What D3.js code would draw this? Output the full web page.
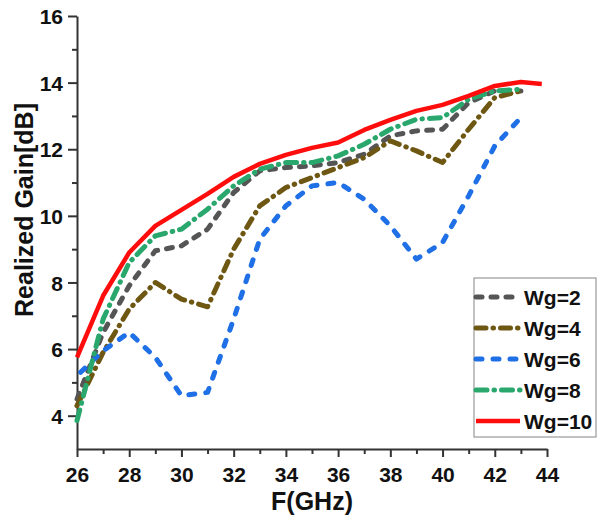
<!DOCTYPE html>
<html>
<head>
<meta charset="utf-8">
<script src="https://cdn.jsdelivr.net/npm/d3@7"></script>
<style>
  body { margin: 0; background: #fff; }
  svg text { font-family: "Liberation Sans", Arial, sans-serif; font-weight: bold; fill: #111; }
</style>
</head>
<body>
<div id="chart"></div>
<script>
// frequency points (GHz)
var freqs = [26, 27, 28, 29, 30, 31, 32, 33, 34, 35, 36, 37, 38, 39, 40, 41, 42, 43];
var freqsWg10 = freqs.concat([43.8]);

// realized gain (dB) per Wg
var wg2 = [4.5, 6.5, 7.9, 8.95, 9.1, 9.6, 10.7, 11.35, 11.45, 11.5, 11.6, 11.85, 12.4, 12.55, 12.6, 13.4, 13.75, 13.75];
var wg4 = [4.3, 5.9, 7.2, 8.0, 7.5, 7.27, 9.0, 10.3, 10.85, 11.15, 11.45, 11.75, 12.25, 11.95, 11.6, 12.6, 13.55, 13.75];
var wg6 = [5.2, 5.95, 6.5, 5.75, 4.6, 4.7, 6.9, 9.3, 10.3, 10.9, 11.0, 10.5, 9.7, 8.7, 9.2, 10.6, 12.1, 12.95];
var wg8 = [3.85, 6.9, 8.6, 9.4, 9.6, 10.2, 10.9, 11.4, 11.6, 11.6, 11.8, 12.15, 12.6, 12.9, 12.95, 13.5, 13.75, 13.8];
var wg10 = [5.75, 7.6, 8.9, 9.7, 10.18, 10.66, 11.17, 11.56, 11.83, 12.04, 12.2, 12.58, 12.88, 13.15, 13.33, 13.6, 13.9, 14.02, 13.96];

var seriesNames = ['Wg=2', 'Wg=4', 'Wg=6', 'Wg=8', 'Wg=10'];
var xTicks = [26, 28, 30, 32, 34, 36, 38, 40, 42, 44];
var yTicks = [4, 6, 8, 10, 12, 14, 16];

var series = [
  { name: seriesNames[0], x: freqs, y: wg2, color: '#555555', dash: '6,9', offset: 0, width: 5 },
  { name: seriesNames[1], x: freqs, y: wg4, color: '#6e5712', dash: '10,7,0.5,7', offset: 0, width: 5 },
  { name: seriesNames[2], x: freqs, y: wg6, color: '#1f6fe6', dash: '6,11', offset: 12, width: 5 },
  { name: seriesNames[3], x: freqs, y: wg8, color: '#2aa76c', dash: '11,7,0.5,7', offset: 0, width: 5 },
  { name: seriesNames[4], x: freqsWg10, y: wg10, color: '#ff0d0d', dash: null, offset: 0, width: 4.5 }
];

var width = 601, height = 525;
var margin = { top: 16, right: 54, bottom: 76, left: 77 };

var x = d3.scaleLinear().domain([26, 44]).range([margin.left, width - margin.right]);
var y = d3.scaleLinear().domain([3, 16]).range([height - margin.bottom, margin.top]);

var svg = d3.select('#chart')
  .append('svg')
  .attr('width', width)
  .attr('height', height);

// minor ticks first, then major axes
svg.append('g')
  .attr('transform', 'translate(0,' + y(3) + ')')
  .call(d3.axisBottom(x).tickValues(d3.range(27, 44, 2)).tickSize(5).tickFormat(''))
  .call(function(g) { g.select('.domain').remove(); });

svg.append('g')
  .attr('transform', 'translate(' + x(26) + ',0)')
  .call(d3.axisLeft(y).tickValues([5, 7, 9, 11, 13, 15]).tickSize(5).tickFormat(''))
  .call(function(g) { g.select('.domain').remove(); });

var xAxis = svg.append('g')
  .attr('transform', 'translate(0,' + y(3) + ')')
  .call(d3.axisBottom(x).tickValues(xTicks).tickSize(8).tickSizeOuter(0).tickPadding(10));

var yAxis = svg.append('g')
  .attr('transform', 'translate(' + x(26) + ',0)')
  .call(d3.axisLeft(y).tickValues(yTicks).tickSize(9).tickSizeOuter(0).tickPadding(5));

svg.selectAll('.tick line').attr('stroke', '#333').attr('stroke-width', 2);
svg.selectAll('.domain').attr('stroke', '#333').attr('stroke-width', 2);
xAxis.selectAll('text').style('font-size', '21px').attr('fill', '#111');
yAxis.selectAll('text').style('font-size', '21px').attr('fill', '#111').attr('dy', '0.36em');

// axis titles
svg.append('text')
  .attr('x', 312)
  .attr('y', 510)
  .attr('text-anchor', 'middle')
  .style('font-size', '25px')
  .text('F(GHz)');

svg.append('text')
  .attr('transform', 'translate(33,' + 210 + ') rotate(-90)')
  .attr('text-anchor', 'middle')
  .style('font-size', '25px')
  .text('Realized Gain[dB]');

// data lines
var line = d3.line()
  .x(function(d) { return x(d[0]); })
  .y(function(d) { return y(d[1]); });

series.forEach(function(s) {
  var pts = s.x.map(function(f, i) { return [f, s.y[i]]; });
  svg.append('path')
    .datum(pts)
    .attr('d', line)
    .attr('fill', 'none')
    .attr('stroke', s.color)
    .attr('stroke-width', s.width)
    .attr('stroke-linecap', s.dash ? 'round' : 'butt')
    .attr('stroke-linejoin', 'round')
    .attr('stroke-dasharray', s.dash)
    .attr('stroke-dashoffset', s.offset);
});

// legend
var legend = svg.append('g').attr('transform', 'translate(474,278)');
legend.append('rect')
  .attr('width', 122)
  .attr('height', 159)
  .attr('fill', '#fff')
  .attr('stroke', '#999')
  .attr('stroke-width', 1.2);

series.forEach(function(s, i) {
  var cy = 19 + i * 31;
  legend.append('line')
    .attr('x1', 2).attr('x2', 46)
    .attr('y1', cy).attr('y2', cy)
    .attr('stroke', s.color)
    .attr('stroke-width', s.width)
    .attr('stroke-linecap', s.dash ? 'round' : 'butt')
    .attr('stroke-dasharray', s.dash);
  legend.append('text')
    .attr('x', 50)
    .attr('y', cy)
    .attr('dy', '0.36em')
    .style('font-size', '21px')
    .text(s.name);
});
</script>
</body>
</html>
